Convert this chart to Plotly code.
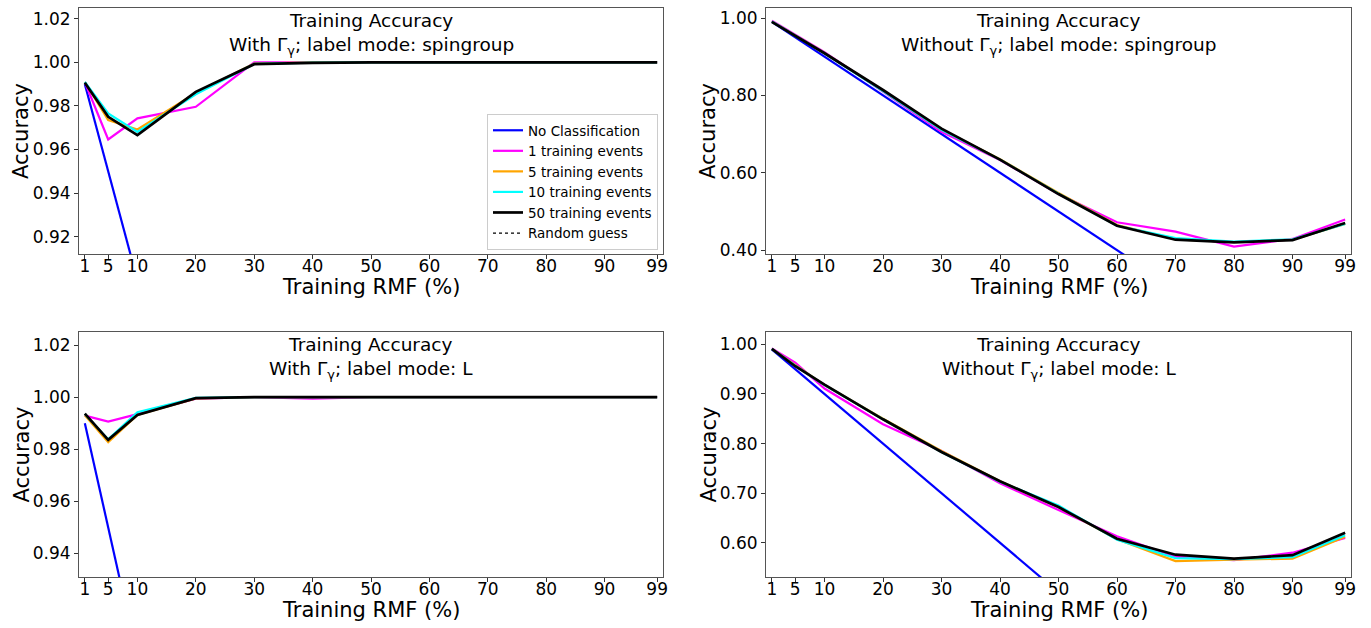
import plotly.graph_objects as go

# ---------------- data ----------------
rmf = [1, 5, 10, 20, 30, 40, 50, 60, 70, 80, 90, 99]
x_ticks = [1, 5, 10, 20, 30, 40, 50, 60, 70, 80, 90, 99]

no_class = [0.99, 0.95, 0.90, 0.80, 0.70, 0.60, 0.50, 0.40, 0.30, 0.20, 0.10, 0.01]

# With Gamma, spingroup
a_1 = [0.991, 0.9646, 0.9743, 0.9796, 1.000, 1.000, 1.000, 1.000, 1.000, 1.000, 1.000, 1.000]
a_5 = [0.991, 0.9735, 0.9692, 0.9860, 0.9995, 1.000, 1.000, 1.000, 1.000, 1.000, 1.000, 1.000]
a_10 = [0.991, 0.9766, 0.9681, 0.9854, 0.9993, 0.9999, 1.000, 1.000, 0.9999, 1.000, 1.000, 1.000]
a_50 = [0.9907, 0.9750, 0.9666, 0.9865, 0.9992, 0.9998, 1.000, 1.000, 1.000, 1.000, 1.000, 1.000]

# Without Gamma, spingroup
b_1 = [0.993, 0.958, 0.912, 0.810, 0.706, 0.633, 0.545, 0.472, 0.448, 0.409, 0.429, 0.479]
b_5 = [0.991, 0.955, 0.910, 0.812, 0.712, 0.635, 0.548, 0.465, 0.428, 0.421, 0.427, 0.468]
b_10 = [0.991, 0.955, 0.909, 0.811, 0.711, 0.634, 0.546, 0.463, 0.431, 0.422, 0.428, 0.468]
b_50 = [0.990, 0.954, 0.909, 0.814, 0.714, 0.634, 0.545, 0.463, 0.427, 0.420, 0.426, 0.470]

# With Gamma, L
c_1 = [0.9929, 0.9906, 0.9935, 0.9994, 1.000, 0.9994, 1.000, 1.000, 1.000, 0.9998, 1.000, 1.000]
c_5 = [0.9930, 0.9827, 0.9932, 0.9995, 1.000, 1.000, 1.000, 1.000, 1.000, 1.000, 1.000, 1.000]
c_10 = [0.9935, 0.9838, 0.9942, 0.9997, 1.000, 1.000, 1.000, 1.000, 1.000, 1.000, 1.000, 1.000]
c_50 = [0.9937, 0.9836, 0.9932, 0.9996, 1.000, 1.000, 1.000, 1.000, 1.000, 1.000, 1.000, 1.000]

# Without Gamma, L
d_1 = [0.992, 0.963, 0.911, 0.839, 0.785, 0.720, 0.666, 0.613, 0.572, 0.565, 0.580, 0.610]
d_5 = [0.991, 0.958, 0.918, 0.850, 0.785, 0.724, 0.672, 0.607, 0.563, 0.566, 0.568, 0.612]
d_10 = [0.991, 0.957, 0.918, 0.849, 0.783, 0.723, 0.675, 0.606, 0.569, 0.567, 0.571, 0.615]
d_50 = [0.991, 0.956, 0.919, 0.849, 0.783, 0.724, 0.672, 0.608, 0.576, 0.568, 0.575, 0.620]

# Random guess levels (below visible range)
rg_spingroup = [0.333] * len(rmf)
rg_L = [0.500] * len(rmf)

series_names = ["No Classification", "1 training events", "5 training events",
                "10 training events", "50 training events", "Random guess"]
series_colors = ["#0000ff", "#ff00ff", "#ffa500", "#00ffff", "#000000", "#000000"]

panels = [
    dict(title="Training Accuracy<br>With Γ<sub>γ</sub>; label mode: spingroup",
         data=[no_class, a_1, a_5, a_10, a_50, rg_spingroup],
         yrange=[0.912, 1.025], yticks=[0.92, 0.94, 0.96, 0.98, 1.00, 1.02]),
    dict(title="Training Accuracy<br>Without Γ<sub>γ</sub>; label mode: spingroup",
         data=[no_class, b_1, b_5, b_10, b_50, rg_spingroup],
         yrange=[0.39, 1.026], yticks=[0.40, 0.60, 0.80, 1.00]),
    dict(title="Training Accuracy<br>With Γ<sub>γ</sub>; label mode: L",
         data=[no_class, c_1, c_5, c_10, c_50, rg_L],
         yrange=[0.931, 1.025], yticks=[0.94, 0.96, 0.98, 1.00, 1.02]),
    dict(title="Training Accuracy<br>Without Γ<sub>γ</sub>; label mode: L",
         data=[no_class, d_1, d_5, d_10, d_50, rg_L],
         yrange=[0.531, 1.025], yticks=[0.60, 0.70, 0.80, 0.90, 1.00]),
]

W, H = 1371, 628
# pixel boxes of the plot areas (left, right, top, bottom)
boxes = [(79, 663, 8, 254), (766, 1351, 8, 254), (79, 663, 332, 577), (766, 1351, 332, 577)]

FONT = "DejaVu Sans"
fig = go.Figure()
annotations = []

for i, (p, b) in enumerate(zip(panels, boxes)):
    k = "" if i == 0 else str(i + 1)
    xa, ya = "x" + k, "y" + k
    for j, (name, col, vals) in enumerate(zip(series_names, series_colors, p["data"])):
        dash = "dot" if name == "Random guess" else "solid"
        width = 1.2 if name == "Random guess" else (2.7 if j == 4 else 2.2)
        fig.add_trace(go.Scatter(
            x=rmf, y=vals, mode="lines", name=name,
            line=dict(color=col, width=width, dash=dash),
            xaxis=xa, yaxis=ya, showlegend=(i == 0), legendgroup=name,
        ))
    l, r, t, bt = b
    xdom = [l / W, r / W]
    ydom = [1 - bt / H, 1 - t / H]
    axis_common = dict(showline=True, mirror=True, linecolor="#555", linewidth=1,
                       ticks="outside", ticklen=4, tickwidth=1, tickcolor="#333",
                       showgrid=False, zeroline=False, automargin=False,
                       tickfont=dict(family=FONT, size=17, color="black"))
    fig.layout["xaxis" + k] = dict(domain=xdom, range=[0, 100], tickvals=x_ticks,
                                   anchor=ya, ticklabelstandoff=-7, **axis_common)
    fig.layout["yaxis" + k] = dict(domain=ydom, range=p["yrange"], tickvals=p["yticks"],
                                   tickformat=".2f", anchor=xa, **axis_common)
    cx = (l + r) / 2 / W
    # panel title (inside axes)
    annotations.append(dict(text=p["title"], xref="paper", yref="paper", x=cx, y=ydom[1],
                            xanchor="center", yanchor="top", yshift=0, showarrow=False,
                            font=dict(family=FONT, size=18.5, color="black")))
    # x-axis title
    annotations.append(dict(text="Training RMF (%)", xref="paper", yref="paper", x=cx,
                            y=1 - (bt + 33) / H, xanchor="center", yanchor="middle",
                            showarrow=False, font=dict(family=FONT, size=21, color="black")))
    # y-axis title
    annotations.append(dict(text="Accuracy", xref="paper", yref="paper",
                            x=(l - 58) / W, y=(ydom[0] + ydom[1]) / 2, textangle=-90,
                            xanchor="center", yanchor="middle", showarrow=False,
                            font=dict(family=FONT, size=21, color="black")))

fig.update_layout(
    width=W, height=H, margin=dict(l=0, r=0, t=0, b=0),
    paper_bgcolor="white", plot_bgcolor="white",
    annotations=annotations,
    legend=dict(x=658 / W, xanchor="right", y=1 - 250 / H, yanchor="bottom",
                bgcolor="white", bordercolor="#cccccc", borderwidth=1,
                font=dict(family=FONT, size=13.5, color="black"),
                tracegroupgap=0, itemwidth=30),
    font=dict(family=FONT),
)

fig.write_html("out.html", config={"displayModeBar": False},
               post_script="document.body.style.margin='0';document.body.style.padding='0';")
